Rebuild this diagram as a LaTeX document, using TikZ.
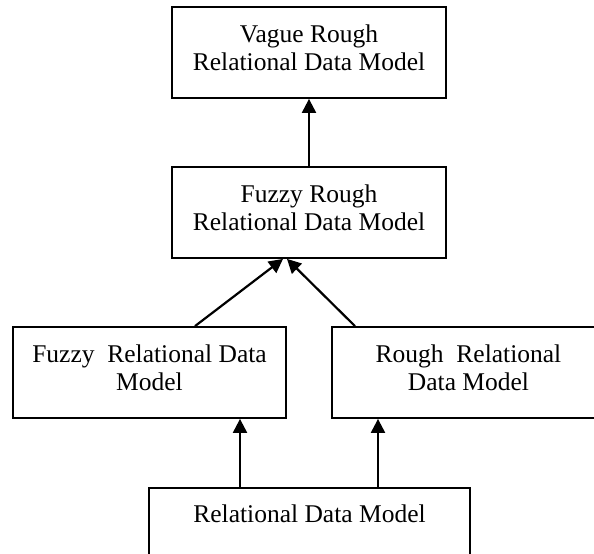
\documentclass[tikz,border=0pt]{standalone}
\usepackage{fontspec}
\setmainfont{Liberation Serif}
\usetikzlibrary{arrows.meta}
\tikzset{
	modelbox/.style={draw, line width=0.9pt, minimum width=137pt, minimum height=45.5pt, align=center, inner sep=2pt, font=\fontsize{12.75}{14}\selectfont, execute at end node={\rule[-5pt]{0pt}{0pt}}},
	uparrow/.style={-{Triangle[length=7pt,width=7pt]}, line width=1.1pt}
}
\begin{document}
\begin{tikzpicture}[x=0.5pt,y=-0.5pt]
			\clip (0,0) rectangle (594,553);
			\node[modelbox] (vague) at (309,52.5) {Vague Rough\\Relational Data Model};
			\node[modelbox] (fuzzyrough) at (309,212.5) {Fuzzy Rough\\Relational Data Model};
			\node[modelbox, minimum width=136.5pt] (fuzzy) at (149.5,372.5) {Fuzzy\ \ Relational Data\\Model};
			\node[modelbox, minimum width=136.5pt] (rough) at (468.5,372.5) {Rough\ \ Relational\\Data Model};
			\node[modelbox, minimum width=160.5pt, anchor=north, text height=9pt, text depth=20pt] (relational) at (309.5,487) {Relational Data Model};
			\coordinate (relL) at (240,487);
			\coordinate (relR) at (378,487);
			\draw[uparrow] (fuzzyrough) -- (vague);
			\draw[uparrow] ([xshift=22.75pt]fuzzy.north) -- ([xshift=-13pt]fuzzyrough.south);
			\draw[uparrow] ([xshift=-56.75pt]rough.north) -- ([xshift=-11pt]fuzzyrough.south);
			\draw[uparrow] (relL) -- (relL |- fuzzy.south);
			\draw[uparrow] (relR) -- (relR |- rough.south);
		\end{tikzpicture}
\end{document}
